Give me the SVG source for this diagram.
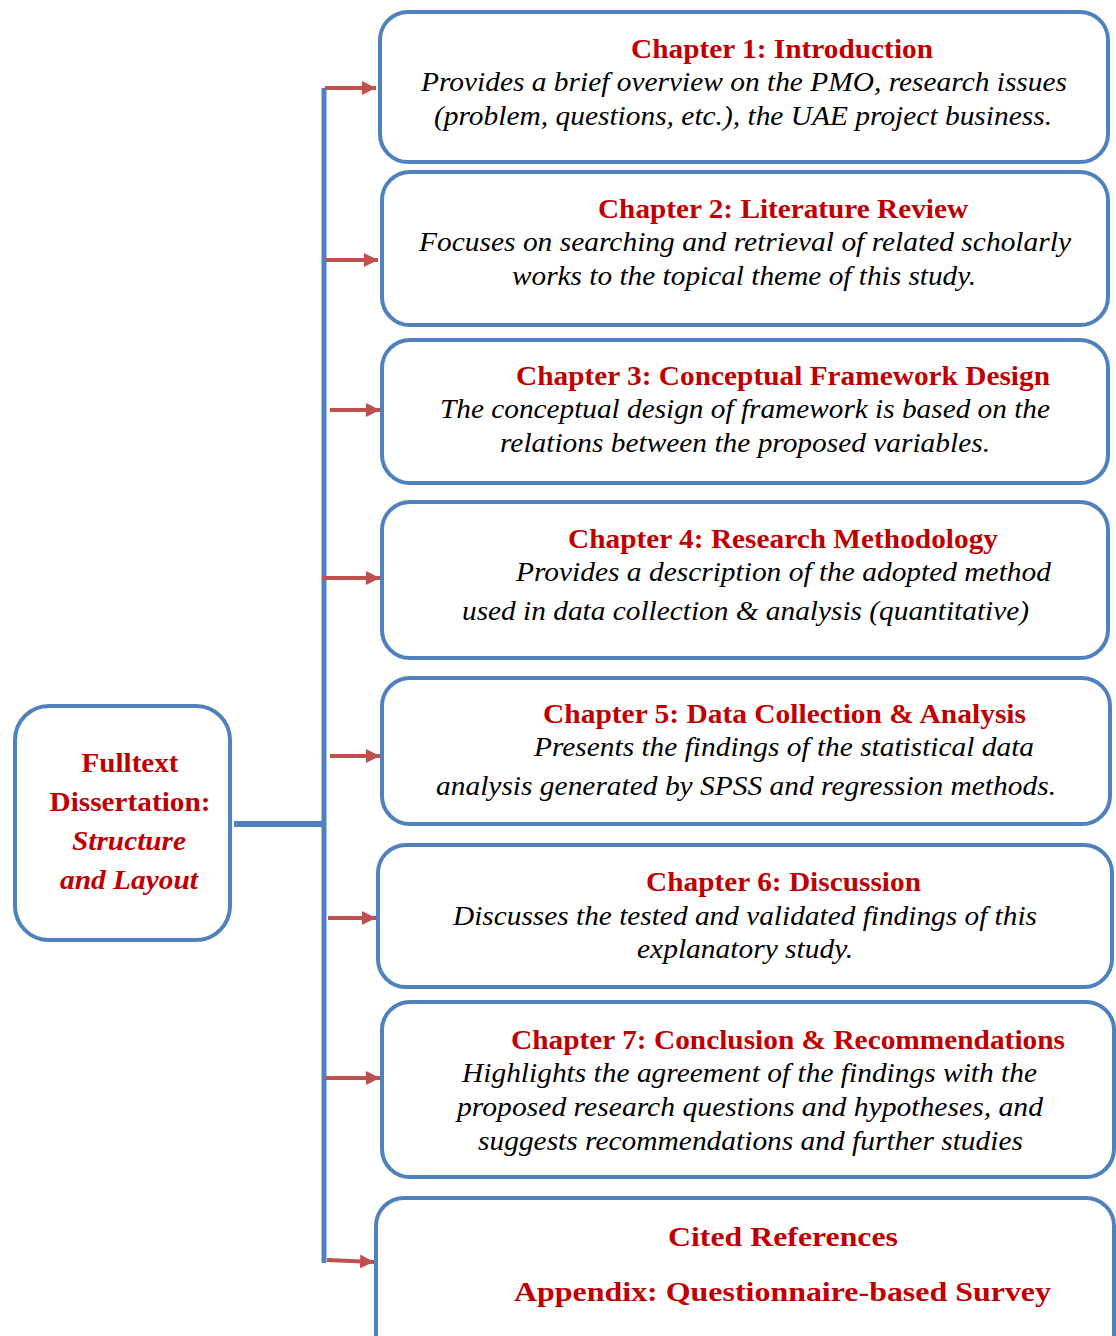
<svg xmlns="http://www.w3.org/2000/svg" width="1116" height="1336" viewBox="0 0 1116 1336">
<style>
.box{fill:#fff;stroke:#4F81BD;stroke-width:4}
.t{font-family:"Liberation Serif","Times New Roman",serif;font-weight:bold;fill:#C00000;font-size:28px}
.ti{font-family:"Liberation Serif","Times New Roman",serif;font-weight:bold;font-style:italic;fill:#C00000;font-size:28px}
.b{font-family:"Liberation Serif","Times New Roman",serif;font-style:italic;fill:#000;font-size:27px}
.trunk{stroke:#4F81BD;fill:none}
.arr{stroke:#C0504D;stroke-width:4;fill:none}
</style>
<defs>
<marker id="ah" markerUnits="userSpaceOnUse" markerWidth="16" markerHeight="16" refX="14" refY="8" orient="auto">
<path d="M0,1 L14,8 L0,15 Z" fill="#C0504D"/>
</marker>
</defs>
<g id="connectors">
<line class="trunk" x1="324" y1="88" x2="324" y2="1263" stroke-width="5"/>
<line class="trunk" x1="234" y1="824" x2="326" y2="824" stroke-width="6"/>
<line class="arr" x1="325" y1="88" x2="376" y2="88" marker-end="url(#ah)"/>
<line class="arr" x1="326" y1="260" x2="378" y2="260" marker-end="url(#ah)"/>
<line class="arr" x1="330" y1="410" x2="380" y2="410" marker-end="url(#ah)"/>
<line class="arr" x1="322" y1="578" x2="380" y2="578" marker-end="url(#ah)"/>
<line class="arr" x1="330" y1="756" x2="380" y2="756" marker-end="url(#ah)"/>
<line class="arr" x1="328" y1="918" x2="376" y2="918" marker-end="url(#ah)"/>
<line class="arr" x1="326" y1="1078" x2="380" y2="1078" marker-end="url(#ah)"/>
<line class="arr" x1="327" y1="1260" x2="374" y2="1262" marker-end="url(#ah)"/>
</g>
<g id="root">
<rect class="box" x="15" y="706" width="215" height="234" rx="34"/>
<text class="t" x="130" y="772" text-anchor="middle" textLength="97" lengthAdjust="spacingAndGlyphs">Fulltext</text>
<text class="t" x="130" y="811" text-anchor="middle" textLength="161" lengthAdjust="spacingAndGlyphs">Dissertation:</text>
<text class="ti" x="129" y="850" text-anchor="middle" textLength="114" lengthAdjust="spacingAndGlyphs">Structure</text>
<text class="ti" x="129" y="889" text-anchor="middle" textLength="138" lengthAdjust="spacingAndGlyphs">and Layout</text>
</g>
<g id="ch1">
<rect class="box" x="380" y="12" width="728" height="150" rx="28"/>
<text class="t" x="631" y="58" textLength="302" lengthAdjust="spacingAndGlyphs">Chapter 1: Introduction</text>
<text class="b" x="421" y="91" textLength="646" lengthAdjust="spacingAndGlyphs">Provides a brief overview on the PMO, research issues</text>
<text class="b" x="434" y="125" textLength="618" lengthAdjust="spacingAndGlyphs">(problem, questions, etc.), the UAE project business.</text>
</g>
<g id="ch2">
<rect class="box" x="382" y="172" width="726" height="153" rx="28"/>
<text class="t" x="598" y="218" textLength="370" lengthAdjust="spacingAndGlyphs">Chapter 2: Literature Review</text>
<text class="b" x="419" y="251" textLength="652" lengthAdjust="spacingAndGlyphs">Focuses on searching and retrieval of related scholarly</text>
<text class="b" x="512" y="285" textLength="464" lengthAdjust="spacingAndGlyphs">works to the topical theme of this study.</text>
</g>
<g id="ch3">
<rect class="box" x="382" y="340" width="726" height="143" rx="28"/>
<text class="t" x="516" y="385" textLength="534" lengthAdjust="spacingAndGlyphs">Chapter 3: Conceptual Framework Design</text>
<text class="b" x="440" y="418" textLength="610" lengthAdjust="spacingAndGlyphs">The conceptual design of framework is based on the</text>
<text class="b" x="500" y="452" textLength="490" lengthAdjust="spacingAndGlyphs">relations between the proposed variables.</text>
</g>
<g id="ch4">
<rect class="box" x="382" y="502" width="726" height="156" rx="28"/>
<text class="t" x="568" y="548" textLength="430" lengthAdjust="spacingAndGlyphs">Chapter 4: Research Methodology</text>
<text class="b" x="516" y="581" textLength="535" lengthAdjust="spacingAndGlyphs">Provides a description of the adopted method</text>
<text class="b" x="462" y="620" textLength="567" lengthAdjust="spacingAndGlyphs">used in data collection &amp; analysis (quantitative)</text>
</g>
<g id="ch5">
<rect class="box" x="382" y="678" width="728" height="146" rx="28"/>
<text class="t" x="543" y="723" textLength="483" lengthAdjust="spacingAndGlyphs">Chapter 5: Data Collection &amp; Analysis</text>
<text class="b" x="534" y="756" textLength="500" lengthAdjust="spacingAndGlyphs">Presents the findings of the statistical data</text>
<text class="b" x="436" y="795" textLength="620" lengthAdjust="spacingAndGlyphs">analysis generated by SPSS and regression methods.</text>
</g>
<g id="ch6">
<rect class="box" x="378" y="845" width="734" height="142" rx="28"/>
<text class="t" x="646" y="891" textLength="275" lengthAdjust="spacingAndGlyphs">Chapter 6: Discussion</text>
<text class="b" x="453" y="925" textLength="584" lengthAdjust="spacingAndGlyphs">Discusses the tested and validated findings of this</text>
<text class="b" x="637" y="958" textLength="216" lengthAdjust="spacingAndGlyphs">explanatory study.</text>
</g>
<g id="ch7">
<rect class="box" x="382" y="1002" width="732" height="175" rx="28"/>
<text class="t" x="511" y="1049" textLength="554" lengthAdjust="spacingAndGlyphs">Chapter 7: Conclusion &amp; Recommendations</text>
<text class="b" x="462" y="1082" textLength="575" lengthAdjust="spacingAndGlyphs">Highlights the agreement of the findings with the</text>
<text class="b" x="457" y="1116" textLength="586" lengthAdjust="spacingAndGlyphs">proposed research questions and hypotheses, and</text>
<text class="b" x="478" y="1150" textLength="545" lengthAdjust="spacingAndGlyphs">suggests recommendations and further studies</text>
</g>
<g id="refs">
<rect class="box" x="376" y="1198" width="738" height="170" rx="28"/>
<text class="t" x="668" y="1246" textLength="230" lengthAdjust="spacingAndGlyphs">Cited References</text>
<text class="t" x="514" y="1301" textLength="537" lengthAdjust="spacingAndGlyphs">Appendix: Questionnaire-based Survey</text>
</g>
</svg>
